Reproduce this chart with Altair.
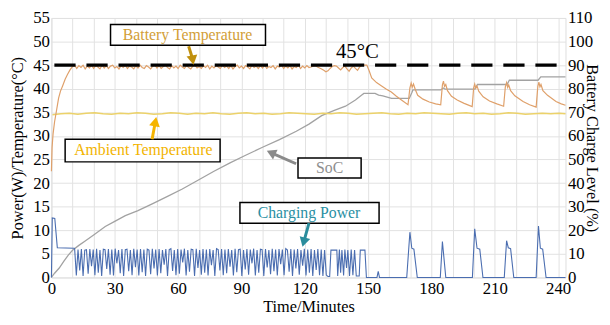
import altair as alt
import pandas as pd

FONT = "Liberation Serif"
X_MAX = 243.5

# ---------------- Battery temperature (°C) ----------------
batt_t_rise = [0, 0.3, 0.8, 1.5, 2.2, 3.4, 4.3, 5.3, 6.5, 7.6, 8.8, 10]
batt_v_rise = [22.5, 27.5, 30.5, 33.0, 34.8, 38.0, 39.5, 40.6, 42.0, 43.0, 44.0, 44.7]
# one value per minute, t = 11 ... 148
batt_v_plateau = [
    45.0, 44.3, 44.9, 44.5, 45.0, 44.2, 44.8, 44.4, 45.0, 44.3,
    44.9, 44.6, 44.2, 45.0, 44.4, 44.9, 44.3, 44.8, 45.0, 44.4,
    44.7, 44.2, 44.9, 44.5, 45.0, 44.3, 44.8, 44.6, 44.2, 44.9,
    44.4, 45.0, 44.5, 44.3, 44.9, 44.6, 44.2, 44.8, 45.0, 44.4,
    44.9, 44.3, 44.7, 45.0, 44.5, 44.2, 44.9, 44.4, 44.8, 44.3,
    45.0, 44.6, 44.3, 44.9, 44.5, 44.2, 44.8, 45.0, 44.4, 44.7,
    44.3, 44.9, 44.5, 45.0, 44.2, 44.8, 44.4, 44.9, 44.6, 44.3,
    45.0, 44.5, 44.8, 44.3, 44.9, 44.2, 44.7, 45.0, 44.4, 44.8,
    44.3, 44.9, 44.6, 44.2, 45.0, 44.5, 44.8, 44.3, 44.9, 44.4,
    45.0, 44.3, 44.7, 44.5, 44.9, 44.2, 44.8, 44.6, 45.0, 44.3,
    44.8, 44.4, 44.9, 44.2, 44.7, 44.5, 45.0, 44.3, 44.8, 44.4,
    44.9, 44.5, 44.6, 44.8, 44.9, 44.6, 44.4, 44.2, 43.9, 43.6,
    43.8, 44.3, 44.7, 44.9, 44.8, 44.4, 44.0, 44.5, 44.8, 44.2,
    43.7, 44.4, 44.8, 44.3, 43.9, 44.6, 44.9, 45.0,
]
batt_t_tail = [149.4, 150.5, 151.7, 154.0, 156.4, 158.7, 161.0, 163.4, 165.8, 168.9,
               169.8, 170.4, 170.9, 171.5, 172.3, 173.5, 176.0, 179.0, 182.0, 184.4,
               185.2, 185.7, 186.2, 186.8, 187.6, 189.5, 192.2, 195.5, 199.3, 200.0,
               200.5, 201.0, 201.6, 202.4, 204.5, 207.5, 211.0, 214.2, 215.0, 215.6,
               216.1, 216.6, 217.5, 219.5, 223.4, 226.5, 229.6, 230.4, 230.9, 231.4,
               231.9, 232.8, 235.0, 239.0, 241.5, 243.5]
batt_v_tail = [45.0, 43.8, 42.3, 41.3, 40.6, 39.9, 39.3, 38.4, 37.6, 36.6,
               40.2, 41.2, 40.3, 41.0, 39.9, 38.6, 37.8, 37.2, 36.8, 36.6,
               40.8, 41.6, 40.5, 40.9, 39.6, 38.4, 37.6, 36.9, 36.2, 40.2,
               41.0, 40.1, 40.6, 39.5, 38.3, 37.4, 36.8, 36.3, 40.4, 41.3,
               40.3, 40.8, 39.6, 38.5, 37.3, 36.6, 36.1, 40.5, 41.4, 40.4,
               40.9, 39.6, 38.6, 37.3, 36.8, 36.5]

# ---------------- Ambient temperature (°C), every 4 min ----------------
amb_v = [
    34.5, 34.7, 34.8, 34.6, 34.8, 34.9, 34.7, 34.6, 34.8, 34.7,
    34.9, 34.8, 34.6, 34.7, 34.9, 34.8, 34.6, 34.8, 34.7, 34.9,
    34.7, 34.6, 34.8, 34.9, 34.7, 34.8, 34.6, 34.7, 34.9, 34.8,
    34.7, 34.6, 34.8, 34.7, 34.9, 34.8, 34.6, 34.7, 34.8, 34.9,
    34.7, 34.6, 34.8, 34.7, 34.9, 34.8, 34.7, 34.6, 34.8, 34.9,
    34.7, 34.8, 34.6, 34.7, 34.9, 34.8, 34.6, 34.7, 34.8, 34.7,
    34.8, 34.7,
]

# ---------------- State of charge (%) ----------------
soc_t = [0, 1.5, 3.7, 6, 8, 10, 13, 16, 20, 25.5, 30, 35, 41, 48, 55, 62, 69, 77, 84.6, 92,
         100, 108, 116, 122, 128, 134, 139.3, 144, 147, 148, 153.3, 155, 157, 161.1, 169.5,
         170.8, 171.2, 184.4, 185.6, 186.5, 200.5, 201.8, 215.8, 216.9, 230.5, 231.8, 243.5]
soc_v = [0, 1.8, 4.0, 7.0, 9.5, 11.5, 13.6, 15.5, 18.0, 21.6, 23.8, 26.2, 28.3, 31.3, 34.4,
         37.5, 41.0, 45.0, 48.6, 51.8, 55.2, 58.4, 62.0, 65.0, 68.6, 70.8, 72.6, 75.2, 77.3,
         78.0, 78.0, 77.3, 77.0, 75.9, 75.9, 78.5, 79.5, 79.5, 80.3, 79.8, 79.8, 81.8, 81.8,
         83.6, 83.6, 85.0, 85.0]

# ---------------- Charging power (W) ----------------
power_t_head = [0, 0.4, 1.6, 2.8, 10.8]
power_v_head = [0, 12.6, 12.5, 6.3, 6.2]
# sampled every 0.8 min from t = 11.0
power_v_osc = [
    6.1, 0.4, 5.9, 1.5, 6.0, 0.3, 5.8, 5.9, 0.8, 6.0, 2.4, 5.9, 0.5, 6.1, 1.0, 5.8, 0.3, 6.0, 5.9, 1.8,
    6.0, 0.6, 5.9, 0.4, 6.1, 3.0, 5.8, 0.9, 6.0, 0.3, 5.9, 6.0, 1.3, 5.8, 0.5, 6.1, 2.2, 5.9, 0.4, 6.0,
    1.1, 5.9, 0.3, 6.0, 5.8, 0.7, 6.1, 1.9, 5.9, 0.4, 6.0, 0.9, 5.8, 2.7, 6.0, 0.3, 5.9, 6.1, 1.4, 5.8,
    0.5, 6.0, 0.8, 5.9, 3.2, 6.1, 0.4, 5.8, 1.2, 6.0, 5.9, 0.3, 6.1, 2.0, 5.8, 0.6, 6.0, 1.0, 5.9, 0.4,
    6.0, 2.6, 5.8, 0.3, 6.1, 5.9, 1.5, 6.0, 0.5, 5.9, 0.9, 6.0, 2.3, 5.8, 0.4, 6.1, 1.1, 5.9, 6.0, 0.3,
    5.8, 1.7, 6.0, 0.6, 5.9, 3.0, 6.1, 0.4, 5.8, 1.0, 6.0, 5.9, 0.3, 6.0, 2.1, 5.8, 0.7, 6.1, 1.3, 5.9,
    0.4, 6.0, 2.8, 5.9, 0.5, 6.1, 5.8, 1.2, 6.0, 0.3, 5.9, 1.9, 6.0, 0.6, 5.8, 2.5, 6.1, 0.4, 5.9, 1.0,
    6.0, 0.3, 5.8, 1.6, 6.0, 0.5, 5.9,
]
power_t_tail = [128.6, 129.4, 130.2, 131.0, 131.8, 132.4, 135.2, 135.6, 136.4, 137.0,
                137.6, 138.4, 139.0, 139.8, 140.4, 141.2, 142.0, 142.8, 143.6, 144.4,
                145.8, 146.3, 148.5, 149.2, 154.2, 154.8, 155.4, 168.3, 169.8, 170.7,
                171.7, 173.3, 184.2, 185.2, 186.8, 199.4, 200.5, 201.6, 202.9, 204.4,
                214.5, 215.6, 216.4, 217.5, 219.0, 229.6, 230.7, 231.6, 232.7, 234.3, 243.5]
power_v_tail = [0.3, 5.8, 0.5, 0.2, 0.2, 5.8, 5.8, 0.3, 5.9, 1.0,
                5.8, 0.4, 5.9, 2.0, 5.8, 0.3, 5.9, 0.5, 5.8, 0.3,
                0.3, 5.8, 5.8, 0.0, 0.0, 1.3, 0.0, 0.0, 9.6, 6.2,
                6.0, 0.0, 0.0, 7.6, 0.0, 0.0, 10.3, 6.2, 6.0, 0.0,
                0.0, 7.8, 6.3, 6.1, 0.0, 0.0, 10.9, 6.2, 6.0, 0.0, 0.0]

# ---------------- Threshold ----------------
limit_t = [0, 240]
limit_v = [45, 45]

# ---------------- Annotations (data units) ----------------
box_x1 = [28.0, 6.5, 116.8, 89.3]
box_x2 = [101.4, 79.9, 146.7, 155.2]
box_y1 = [49.2, 24.5, 21.1, 11.5]
box_y2 = [53.6, 29.3, 25.3, 15.9]

label_text = ["Battery Temperature", "Ambient Temperature", "SoC", "Charging Power"]
label_x = [64.5, 43.5, 131.8, 122.0]
label_y = [51.4, 26.9, 23.1, 13.7]
label_color = ["#D29E38", "#F2B400", "#8E8E8E", "#2A8FA3"]

arrow_x1 = [65.0, 47.7, 115.9, 122.0]
arrow_y1 = [49.0, 29.3, 24.1, 11.5]
arrow_x2 = [66.8, 49.1, 104.7, 119.7]
arrow_y2 = [46.4, 32.7, 26.3, 7.8]
arrow_angle = [170, 11, 295, 195]
arrow_color = ["#C0900E", "#F5B400", "#8A8A8A", "#2A8C9C"]

# ---------------- Build tables ----------------
batt_t = batt_t_rise + list(range(11, 149)) + batt_t_tail
batt_v = batt_v_rise + batt_v_plateau + batt_v_tail
amb_t = [0.5 + 4 * i for i in range(len(amb_v) - 1)] + [243.5]
power_t = power_t_head + [round(11 + 0.8 * i, 1) for i in range(len(power_v_osc))] + power_t_tail
power_v = power_v_head + power_v_osc + power_v_tail

df_batt = pd.DataFrame({"t": batt_t, "v": batt_v})
df_amb = pd.DataFrame({"t": amb_t, "v": amb_v})
df_soc = pd.DataFrame({"t": soc_t, "v": soc_v})
df_pow = pd.DataFrame({"t": power_t, "v": power_v})
df_lim = pd.DataFrame({"t": limit_t, "v": limit_v})
df_box = pd.DataFrame({"x1": box_x1, "x2": box_x2, "y1": box_y1, "y2": box_y2})
df_lab = pd.DataFrame({"x": label_x, "y": label_y, "text": label_text, "c": label_color})
df_arr = pd.DataFrame({"x1": arrow_x1, "y1": arrow_y1, "x2": arrow_x2, "y2": arrow_y2,
                       "a": arrow_angle, "c": arrow_color})
df_45 = pd.DataFrame({"x": [144.9], "y": [47.8], "text": ["45°C"]})

W, H = 521, 263
GRID = "#E2E2E2"

xscale = alt.Scale(domain=[0, X_MAX], nice=False, zero=False)
yscale = alt.Scale(domain=[0, 55], nice=False)
sscale = alt.Scale(domain=[0, 110], nice=False)

common = dict(ticks=False, domain=False, labelFont=FONT, labelFontSize=17,
              labelColor="black", titleFont=FONT, titleFontSize=16.5,
              titleFontWeight="normal", titleColor="black")

xaxis = alt.Axis(values=list(range(0, 241, 10)),
                 labelExpr="datum.value % 30 === 0 ? datum.label : ''",
                 title="Time/Minutes", grid=True, gridColor=GRID, labelPadding=3,
                 labelFlush=False, titlePadding=2, **common)
yaxis = alt.Axis(values=list(range(0, 56, 5)), title="Power(W)/Temperature(°C)",
                 grid=True, gridColor=GRID, labelPadding=2,
                 titleX=-34, titleY=H / 2, titleBaseline="middle", **common)
saxis = alt.Axis(orient="right", values=list(range(0, 111, 10)),
                 title="Battery Charge Level (%)", grid=False, labelPadding=2,
                 titleX=26, titleY=H / 2, titleBaseline="middle", **common)

X = alt.X("t:Q", scale=xscale, axis=xaxis)
Y = alt.Y("v:Q", scale=yscale, axis=yaxis)

soc = alt.Chart(df_soc).mark_line(color="#A2A2A2", strokeWidth=1.3).encode(
    x=X, y=alt.Y("v:Q", scale=sscale, axis=saxis))

amb = alt.Chart(df_amb).mark_line(color="#ECD26A", strokeWidth=1.6).encode(x=X, y=Y)
batt = alt.Chart(df_batt).mark_line(color="#DFA06A", strokeWidth=1.2).encode(x=X, y=Y)
pw = alt.Chart(df_pow).mark_line(color="#4A6DB0", strokeWidth=1.1).encode(x=X, y=Y)
lim = alt.Chart(df_lim).mark_line(color="black", strokeWidth=3.5, strokeDash=[21.5, 11],
                                  strokeDashOffset=29.5).encode(x=X, y=Y)

BX = alt.X("x1:Q", scale=xscale, axis=xaxis)
BY = alt.Y("y1:Q", scale=yscale, axis=yaxis)
boxes = alt.Chart(df_box).mark_rect(fill="white", stroke="black", strokeWidth=1.5).encode(
    x=BX, x2="x2:Q", y=BY, y2="y2:Q")

LX = alt.X("x:Q", scale=xscale, axis=xaxis)
LY = alt.Y("y:Q", scale=yscale, axis=yaxis)
labels = alt.Chart(df_lab).mark_text(font=FONT, fontSize=16, align="center",
                                     baseline="middle").encode(
    x=LX, y=LY, text="text:N", color=alt.Color("c:N", scale=None))
t45 = alt.Chart(df_45).mark_text(font=FONT, fontSize=21, color="black", align="center",
                                 baseline="middle").encode(x=LX, y=LY, text="text:N")

shafts = alt.Chart(df_arr).mark_rule(strokeWidth=3).encode(
    x=BX, x2="x2:Q", y=BY, y2="y2:Q", color=alt.Color("c:N", scale=None))
heads = alt.Chart(df_arr).mark_point(shape="triangle", filled=True, size=120, opacity=1).encode(
    x=alt.X("x2:Q", scale=xscale, axis=xaxis), y=alt.Y("y2:Q", scale=yscale, axis=yaxis),
    angle=alt.Angle("a:Q", scale=None), color=alt.Color("c:N", scale=None))

left = alt.layer(amb, batt, pw, lim, boxes, labels, t45, shafts, heads)

chart = alt.layer(soc, left).resolve_scale(y="independent").properties(
    width=W, height=H,
    autosize=alt.AutoSizeParams(type="none"),
    padding={"left": 44, "top": 8, "right": 37, "bottom": 40},
).configure_view(
    stroke="#CFCFCF", strokeWidth=1
).configure_axis(
    labelFont=FONT, titleFont=FONT
).configure_text(
    font=FONT
).configure(background="white", font=FONT)

chart.save("out.html", embed_options={"renderer": "svg", "actions": False})
